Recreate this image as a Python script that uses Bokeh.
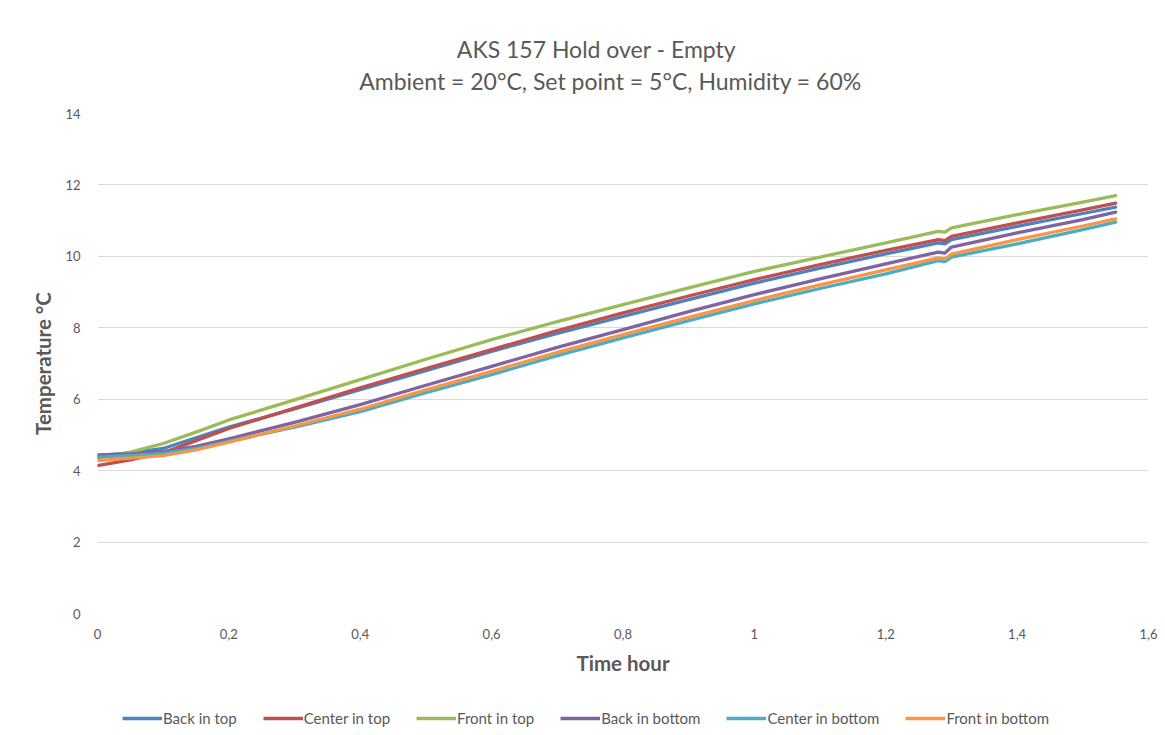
from bokeh.plotting import figure
from bokeh.layouts import column
from bokeh.models import Legend, LegendItem, FixedTicker, Label, Range1d
from bokeh.embed import file_html
from bokeh.resources import INLINE

# ---- data ----
time_h = [0, 0.05, 0.1, 0.15, 0.2, 0.3, 0.4, 0.5, 0.6, 0.7, 0.8, 0.9, 1.0,
          1.1, 1.2, 1.28, 1.29, 1.3, 1.4, 1.5, 1.55]

back_in_top = [4.42, 4.50, 4.62, 4.92, 5.22, 5.73, 6.27, 6.80, 7.34, 7.84, 8.32,
               8.79, 9.25, 9.67, 10.07, 10.38, 10.35, 10.47, 10.84, 11.20, 11.38]
center_in_top = [4.14, 4.30, 4.50, 4.84, 5.18, 5.75, 6.32, 6.86, 7.39, 7.92, 8.42,
                 8.89, 9.35, 9.77, 10.17, 10.47, 10.44, 10.56, 10.94, 11.30, 11.49]
front_in_top = [4.35, 4.52, 4.76, 5.08, 5.42, 5.98, 6.55, 7.12, 7.67, 8.17, 8.65,
                9.12, 9.58, 9.98, 10.38, 10.70, 10.68, 10.80, 11.17, 11.52, 11.70]
back_in_bottom = [4.44, 4.47, 4.53, 4.68, 4.89, 5.35, 5.85, 6.39, 6.92, 7.45, 7.95,
                  8.45, 8.93, 9.37, 9.79, 10.12, 10.09, 10.26, 10.66, 11.03, 11.24]
center_in_bottom = [4.38, 4.42, 4.48, 4.62, 4.82, 5.22, 5.65, 6.18, 6.69, 7.22, 7.72,
                    8.20, 8.67, 9.10, 9.51, 9.88, 9.85, 9.98, 10.35, 10.75, 10.96]
front_in_bottom = [4.28, 4.35, 4.42, 4.58, 4.80, 5.25, 5.72, 6.26, 6.78, 7.31, 7.81,
                   8.29, 8.76, 9.20, 9.62, 9.96, 9.93, 10.06, 10.47, 10.85, 11.05]

series_names = ["Back in top", "Center in top", "Front in top",
                "Back in bottom", "Center in bottom", "Front in bottom"]
series_values = [back_in_top, center_in_top, front_in_top,
                 back_in_bottom, center_in_bottom, front_in_bottom]
series_colors = ["#4F81BD", "#C0504D", "#9BBB59", "#8064A2", "#4BACC6", "#F79646"]

x_ticks = [0, 0.2, 0.4, 0.6, 0.8, 1.0, 1.2, 1.4, 1.6]
x_tick_labels = ["0", "0,2", "0,4", "0,6", "0,8", "1", "1,2", "1,4", "1,6"]
y_ticks = [0, 2, 4, 6, 8, 10, 12, 14]

title_line1 = "AKS 157 Hold over - Empty"
title_line2 = "Ambient = 20°C, Set point = 5°C, Humidity = 60%"

FONT = "Lato"
GREY = "#595959"


def blank_strip(h):
    f = figure(width=1160, height=h, output_backend="svg", toolbar_location=None,
               x_range=Range1d(0, 1), y_range=Range1d(0, 1),
               x_axis_type=None, y_axis_type=None,
               min_border_left=0, min_border_right=0,
               min_border_top=0, min_border_bottom=0)
    f.outline_line_color = None
    f.grid.visible = False
    return f


# ---- title strip (screen x is measured from the aligned frame's left edge) ----
pt = blank_strip(105)
for txt, cx, cy in ((title_line1, 499, 57), (title_line2, 513, 25)):
    pt.add_layout(Label(x=cx, y=cy, x_units="screen", y_units="screen", text=txt,
                        text_align="center", text_baseline="middle",
                        text_font=FONT, text_font_size="23px", text_color=GREY))

# ---- main chart ----
p = figure(width=1160, height=590, output_backend="svg", toolbar_location=None,
           x_range=Range1d(0, 1.6), y_range=Range1d(0, 14),
           min_border_left=97, min_border_right=12, min_border_top=8,
           min_border_bottom=82)
p.outline_line_color = None

p.xaxis.ticker = FixedTicker(ticks=x_ticks)
p.xaxis.major_label_overrides = {t: l for t, l in zip(x_ticks, x_tick_labels)}
p.yaxis.ticker = FixedTicker(ticks=y_ticks)
for ax in (p.xaxis, p.yaxis):
    ax.axis_line_color = None
    ax.major_tick_line_color = None
    ax.minor_tick_line_color = None
    ax.major_label_text_font = FONT
    ax.major_label_text_font_size = "13px"
    ax.major_label_text_color = GREY
    ax.axis_label_text_font = FONT
    ax.axis_label_text_font_size = "20.5px"
    ax.axis_label_text_font_style = "bold"
    ax.axis_label_text_color = GREY
p.xaxis.axis_label = "Time hour"
p.yaxis.axis_label = "Temperature °C"
p.xaxis.major_label_standoff = 9
p.yaxis.major_label_standoff = 11
p.xaxis.axis_label_standoff = 9
p.yaxis.axis_label_standoff = 7

p.xgrid.grid_line_color = None
p.ygrid.ticker = FixedTicker(ticks=y_ticks)
p.ygrid.grid_line_color = "#D9D9D9"
p.ygrid.grid_line_width = 1

for vals, col in zip(series_values, series_colors):
    p.line(time_h, vals, line_color=col, line_width=3.3,
           line_join="round", line_cap="round")

# ---- legend strip (its lines sit outside its visible range) ----
pl = blank_strip(38)
items = []
for name, col in zip(series_names, series_colors):
    r = pl.line([5, 6], [5, 6], line_color=col, line_width=3.3)
    items.append(LegendItem(label=name, renderers=[r]))
legend = Legend(items=items, orientation="horizontal", location=(25, 5),
                label_text_font=FONT, label_text_font_size="15px",
                label_text_color=GREY, glyph_width=40, glyph_height=20,
                label_standoff=1, spacing=26, border_line_color=None,
                background_fill_alpha=0, margin=0, padding=4)
pl.add_layout(legend)

layout = column(pt, p, pl, spacing=0)
open("out.html", "w").write(file_html(layout, INLINE))
